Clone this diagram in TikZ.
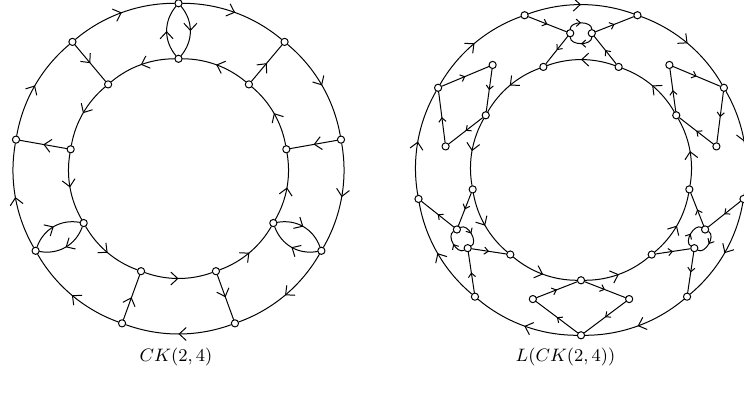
\documentclass[tikz,border=0pt]{standalone}
\usetikzlibrary{arrows.meta,decorations.markings}
\begin{document}
\begin{tikzpicture}[x=0.5pt,y=0.5pt,line width=0.5pt,line cap=round,line join=round,
  every node/.style={font=\small},
  vtx/.style={circle,draw,fill=white,inner sep=0pt,minimum size=3.6pt},
  midarrow/.style={postaction={decorate},decoration={markings,
    mark=at position 0.5 with {\arrow{Straight Barb[length=3.5pt,width=6.5pt]}}}},
  midtick/.style={postaction={decorate},decoration={markings,
    mark=at position 0.5 with {\arrow{Straight Barb[length=2pt,width=3.6pt]}}}},
  outarc/.style={midarrow,bend left=20,looseness=0.88},
  inarc/.style={midarrow,bend right=20,looseness=0.88},
  lens/.style={midarrow,bend left=40},
  pairloop/.style={midtick,bend left=90}]
  \useasboundingbox (0,0) rectangle (744,394);
  % CK(2,4)
  \begin{scope}[shift={(178.5,225.7)}]
    \node[vtx] (Lo90) at (90:165) {};   \node[vtx] (Lo50) at (50:165) {};
    \node[vtx] (Lo10) at (10:165) {};   \node[vtx] (Lo330) at (330:165) {};
    \node[vtx] (Lo290) at (290:165) {}; \node[vtx] (Lo250) at (250:165) {};
    \node[vtx] (Lo210) at (210:165) {}; \node[vtx] (Lo170) at (170:165) {};
    \node[vtx] (Lo130) at (130:165) {};
    \node[vtx] (Li90) at (90:109.5) {};   \node[vtx] (Li50) at (50:109.5) {};
    \node[vtx] (Li10) at (10:109.5) {};   \node[vtx] (Li330) at (330:109.5) {};
    \node[vtx] (Li290) at (290:109.5) {}; \node[vtx] (Li250) at (250:109.5) {};
    \node[vtx] (Li210) at (210:109.5) {}; \node[vtx] (Li170) at (170:109.5) {};
    \node[vtx] (Li130) at (130:109.5) {};
  \end{scope}
  \draw (Lo130) edge[outarc] (Lo90) (Lo90) edge[outarc] (Lo50) (Lo50) edge[outarc] (Lo10)
        (Lo10) edge[outarc] (Lo330) (Lo330) edge[outarc] (Lo290) (Lo290) edge[outarc] (Lo250)
        (Lo250) edge[outarc] (Lo210) (Lo210) edge[outarc] (Lo170) (Lo170) edge[outarc] (Lo130);
  \draw (Li90) edge[inarc] (Li130) (Li130) edge[inarc] (Li170) (Li170) edge[inarc] (Li210)
        (Li210) edge[inarc] (Li250) (Li250) edge[inarc] (Li290) (Li290) edge[inarc] (Li330)
        (Li330) edge[inarc] (Li10) (Li10) edge[inarc] (Li50) (Li50) edge[inarc] (Li90);
  \draw (Lo130) edge[midarrow] (Li130) (Li50) edge[midarrow] (Lo50)
        (Li170) edge[midarrow] (Lo170) (Lo10) edge[midarrow] (Li10)
        (Lo250) edge[midarrow] (Li250) (Li290) edge[midarrow] (Lo290);
  \draw (Lo90) edge[lens] (Li90) (Li90) edge[lens] (Lo90)
        (Lo210) edge[lens] (Li210) (Li210) edge[lens] (Lo210)
        (Lo330) edge[lens] (Li330) (Li330) edge[lens] (Lo330);
  \node (capL) at (176,36.5) {$CK(2,4)$};
  % L(CK(2,4))
  \begin{scope}[shift={(581,223.7)}]
    \node[vtx] (Ro110) at (110:165) {}; \node[vtx] (Ro70) at (70:165) {};
    \node[vtx] (Ro30) at (30:165) {};   \node[vtx] (Ro350) at (350:165) {};
    \node[vtx] (Ro310) at (310:165) {}; \node[vtx] (Ro270) at (270:165) {};
    \node[vtx] (Ro230) at (230:165) {}; \node[vtx] (Ro190) at (190:165) {};
    \node[vtx] (Ro150) at (150:165) {};
    \node[vtx] (Ri110) at (110:110) {}; \node[vtx] (Ri70) at (70:110) {};
    \node[vtx] (Ri30) at (30:110) {};   \node[vtx] (Ri350) at (350:110) {};
    \node[vtx] (Ri310) at (310:110) {}; \node[vtx] (Ri270) at (270:110) {};
    \node[vtx] (Ri230) at (230:110) {}; \node[vtx] (Ri190) at (190:110) {};
    \node[vtx] (Ri150) at (150:110) {};
    \node[vtx] (Rs130) at (130:137.5) {}; \node[vtx] (Rs170) at (170:137.5) {};
    \node[vtx] (Rs50) at (50:137.5) {};   \node[vtx] (Rs10) at (10:137.5) {};
    \node[vtx] (Rs250) at (249.5:137.5) {}; \node[vtx] (Rs290) at (290.5:137.5) {};
    \node[vtx] (Rd90) at (94.5:137.5) {};   \node[vtx] (Ru90) at (85.5:137.5) {};
    \node[vtx] (Rd210) at (214.5:137.5) {}; \node[vtx] (Ru210) at (205.5:137.5) {};
    \node[vtx] (Rd330) at (334.5:137.5) {}; \node[vtx] (Ru330) at (325.5:137.5) {};
  \end{scope}
  \draw (Ro110) edge[outarc] (Ro70) (Ro70) edge[outarc] (Ro30) (Ro30) edge[outarc] (Ro350)
        (Ro350) edge[outarc] (Ro310) (Ro310) edge[outarc] (Ro270) (Ro270) edge[outarc] (Ro230)
        (Ro230) edge[outarc] (Ro190) (Ro190) edge[outarc] (Ro150) (Ro150) edge[outarc] (Ro110);
  \draw (Ri70) edge[inarc] (Ri110) (Ri110) edge[inarc] (Ri150) (Ri150) edge[inarc] (Ri190)
        (Ri190) edge[inarc] (Ri230) (Ri230) edge[inarc] (Ri270) (Ri270) edge[inarc] (Ri310)
        (Ri310) edge[inarc] (Ri350) (Ri350) edge[inarc] (Ri30) (Ri30) edge[inarc] (Ri70);
  \draw (Ro150) edge[midtick] (Rs130) (Rs130) edge[midtick] (Ri150)
        (Ri150) edge[midtick] (Rs170) (Rs170) edge[midtick] (Ro150);
  \draw (Rs50) edge[midtick] (Ro30) (Ro30) edge[midtick] (Rs10)
        (Rs10) edge[midtick] (Ri30) (Ri30) edge[midtick] (Rs50);
  \draw (Ro270) edge[midtick] (Rs250) (Rs250) edge[midtick] (Ri270)
        (Ri270) edge[midtick] (Rs290) (Rs290) edge[midtick] (Ro270);
  \draw (Ro110) edge[midtick] (Rd90) (Rd90) edge[midtick] (Ri110)
        (Ri70) edge[midtick] (Ru90) (Ru90) edge[midtick] (Ro70)
        (Rd90) edge[pairloop] (Ru90) (Ru90) edge[pairloop] (Rd90);
  \draw (Ro230) edge[midtick] (Rd210) (Rd210) edge[midtick] (Ri230)
        (Ri190) edge[midtick] (Ru210) (Ru210) edge[midtick] (Ro190)
        (Rd210) edge[pairloop] (Ru210) (Ru210) edge[pairloop] (Rd210);
  \draw (Ro350) edge[midtick] (Rd330) (Rd330) edge[midtick] (Ri350)
        (Ri310) edge[midtick] (Ru330) (Ru330) edge[midtick] (Ro310)
        (Rd330) edge[pairloop] (Ru330) (Ru330) edge[pairloop] (Rd330);
  \node (capR) at (565.5,36.5) {$L(CK(2,4))$};
\end{tikzpicture}
\end{document}
